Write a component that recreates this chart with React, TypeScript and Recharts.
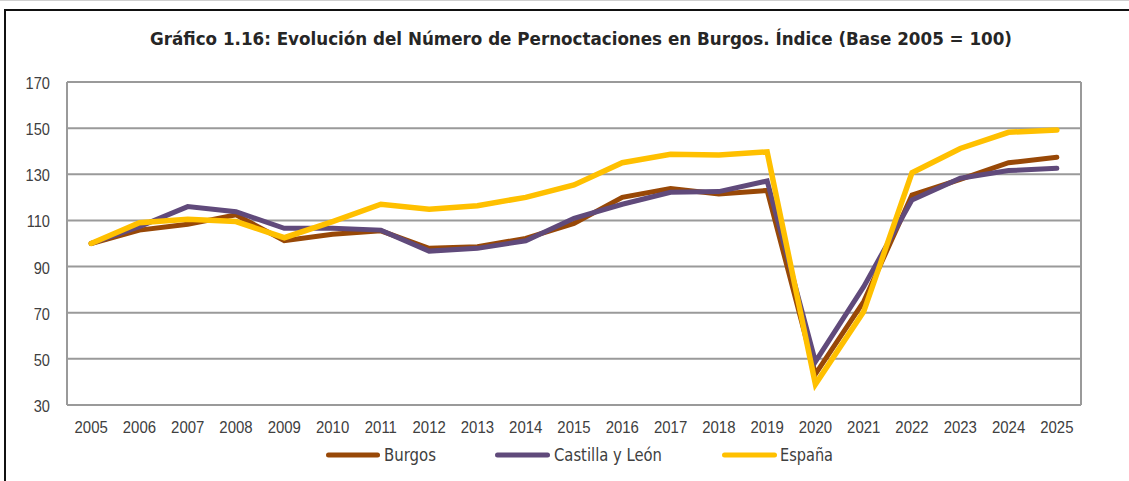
import { LineChart, Line, XAxis, YAxis, CartesianGrid } from "recharts";

/* ------------------------------------------------------------------ */
/*  Data                                                               */
/* ------------------------------------------------------------------ */

const years = [
  "2005", "2006", "2007", "2008", "2009", "2010", "2011", "2012", "2013", "2014",
  "2015", "2016", "2017", "2018", "2019", "2020", "2021", "2022", "2023", "2024", "2025",
];

const burgos = [
  100, 105.8, 108.3, 112.4, 101.2, 104, 105.5, 97.9, 98.6, 102.2,
  108.7, 120, 123.8, 121.5, 123, 43.4, 74.8, 121, 127.8, 135, 137.4,
];

const castillaLeon = [
  100, 107.3, 116, 113.8, 106.6, 106.6, 105.8, 96.7, 97.9, 101.2,
  110.9, 117, 122.2, 122.5, 127.1, 48.8, 81.3, 118.9, 128.3, 131.6, 132.6,
];

const espana = [
  100, 109, 110.5, 109.5, 102.5, 109.5, 117, 114.8, 116.4, 120,
  125.4, 135, 138.7, 138.4, 139.7, 39, 70.5, 130.7, 141.2, 148.2, 149.2,
];

const yTicks = [30, 50, 70, 90, 110, 130, 150, 170];

const TITLE =
  "Gráfico 1.16: Evolución del Número de Pernoctaciones en Burgos. Índice (Base 2005 = 100)";

const series = [
  { key: "burgos", name: "Burgos", color: "#984807", width: 5 },
  { key: "castilla", name: "Castilla y León", color: "#604A7B", width: 5 },
  { key: "espana", name: "España", color: "#FFC000", width: 5.5 },
];

const chartData = years.map((year, i) => ({
  year,
  burgos: burgos[i],
  castilla: castillaLeon[i],
  espana: espana[i],
}));

/* ------------------------------------------------------------------ */
/*  Ticks                                                              */
/* ------------------------------------------------------------------ */

const TICK_FONT = "'Liberation Sans', Arial, sans-serif";

function XTick({ x, y, payload }: any) {
  return (
    <g transform={`translate(${x},${y + 28})`}>
      <text
        x={0}
        y={0}
        textAnchor="middle"
        fill="#404040"
        fontSize={17}
        fontFamily={TICK_FONT}
        transform="scale(0.88,1)"
      >
        {payload.value}
      </text>
    </g>
  );
}

function YTick({ x, y, payload }: any) {
  return (
    <g transform={`translate(${x - 17},${y + 7})`}>
      <text
        x={0}
        y={0}
        textAnchor="end"
        fill="#404040"
        fontSize={17}
        fontFamily={TICK_FONT}
        transform="scale(0.86,1)"
      >
        {payload.value}
      </text>
    </g>
  );
}

/* ------------------------------------------------------------------ */
/*  Legend layout (label start / end in px)                            */
/* ------------------------------------------------------------------ */

const legendItems = [
  { line: [328.5, 377.5], text: [384, 436] },
  { line: [497.5, 547.5], text: [554, 662] },
  { line: [724.5, 774.5], text: [780, 833] },
];

/* ------------------------------------------------------------------ */
/*  App                                                                */
/* ------------------------------------------------------------------ */

export default function App() {
  return (
    <div
      style={{
        position: "absolute",
        left: 0,
        top: 0,
        width: 1129,
        height: 481,
        background: "#fff",
      }}
    >
      <LineChart
        width={1129}
        height={481}
        data={chartData}
        margin={{ top: 82, right: 48, bottom: 46, left: 7 }}
      >
        <CartesianGrid
          stroke="#9a9a9a"
          strokeWidth={2}
          verticalCoordinatesGenerator={({ offset }: any) => [
            offset.left,
            offset.left + offset.width,
          ]}
        />
        <XAxis
          dataKey="year"
          scale="band"
          height={30}
          axisLine={{ stroke: "#9a9a9a", strokeWidth: 2 }}
          tickLine={false}
          tickSize={0}
          tickMargin={0}
          interval={0}
          tick={<XTick />}
        />
        <YAxis
          width={60}
          domain={[30, 170]}
          ticks={yTicks}
          axisLine={{ stroke: "#9a9a9a", strokeWidth: 2 }}
          tickLine={false}
          tickSize={0}
          tickMargin={0}
          tick={<YTick />}
        />
        {series.map((s) => (
          <Line
            key={s.key}
            type="linear"
            dataKey={s.key}
            name={s.name}
            stroke={s.color}
            strokeWidth={s.width}
            strokeLinecap="round"
            dot={false}
            activeDot={false}
            isAnimationActive={false}
          />
        ))}
      </LineChart>

      {/* ---- Frame, title, legend ---- */}
      <svg
        width={1129}
        height={481}
        style={{ position: "absolute", left: 0, top: 0, pointerEvents: "none" }}
      >
        <line x1={0} y1={0.5} x2={1129} y2={0.5} stroke="#d0d0d0" strokeWidth={1} />
        <line x1={4} y1={10} x2={1129} y2={10} stroke="#111" strokeWidth={2} />
        <line x1={5} y1={9} x2={5} y2={481} stroke="#111" strokeWidth={2} />

        <text
          x={150}
          y={45}
          fontSize={18}
          fontWeight="bold"
          fontFamily="'DejaVu Sans', Verdana, sans-serif"
          fill="#262626"
          textLength={862}
          lengthAdjust="spacingAndGlyphs"
        >
          {TITLE}
        </text>

        {series.map((s, i) => {
          const item = legendItems[i];
          return (
            <g key={s.key}>
              <line
                x1={item.line[0]}
                y1={455}
                x2={item.line[1]}
                y2={455}
                stroke={s.color}
                strokeWidth={5}
                strokeLinecap="round"
              />
              <text
                x={item.text[0]}
                y={461}
                fontSize={17}
                fontFamily="'DejaVu Sans', Verdana, sans-serif"
                fill="#404040"
                textLength={item.text[1] - item.text[0]}
                lengthAdjust="spacingAndGlyphs"
              >
                {s.name}
              </text>
            </g>
          );
        })}
      </svg>
    </div>
  );
}
